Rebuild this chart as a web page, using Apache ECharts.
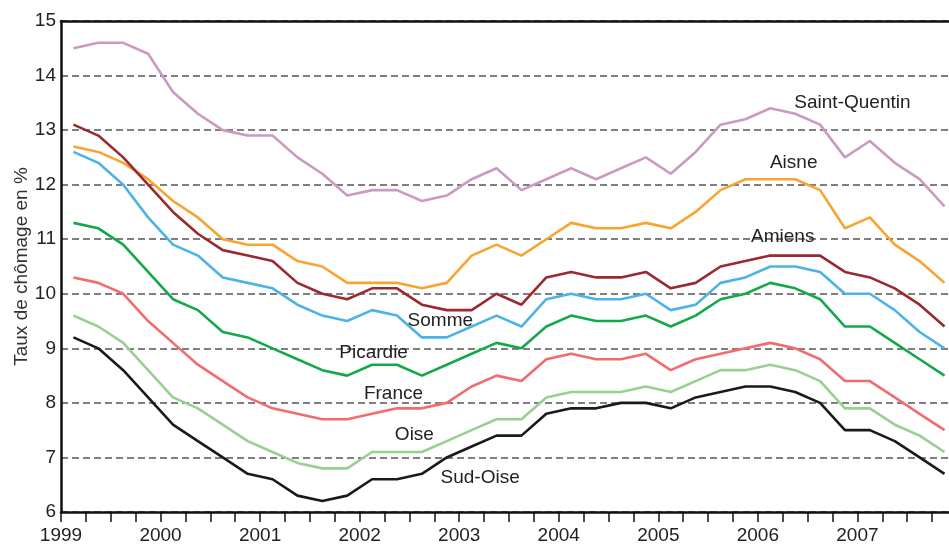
<!DOCTYPE html>
<html>
<head>
<meta charset="utf-8">
<script src="https://cdn.jsdelivr.net/npm/echarts@6/dist/echarts.min.js"></script>
<style>
  html, body { margin: 0; padding: 0; background: #fff; }
  #chomage { width: 949px; height: 544px; }
</style>
</head>
<body>
<div id="chomage"></div>
<script>
// trimestres 1999 T1 .. 2007 T4
let years = [1999, 2000, 2001, 2002, 2003, 2004, 2005, 2006, 2007];
let quarters = [1, 2, 3, 4];

let saintQuentin = [14.5,14.6,14.6,14.4,13.7,13.3,13.0,12.9,12.9,12.5,12.2,11.8,11.9,11.9,11.7,11.8,12.1,12.3,11.9,12.1,12.3,12.1,12.3,12.5,12.2,12.6,13.1,13.2,13.4,13.3,13.1,12.5,12.8,12.4,12.1,11.6];
let aisne = [12.7,12.6,12.4,12.1,11.7,11.4,11.0,10.9,10.9,10.6,10.5,10.2,10.2,10.2,10.1,10.2,10.7,10.9,10.7,11.0,11.3,11.2,11.2,11.3,11.2,11.5,11.9,12.1,12.1,12.1,11.9,11.2,11.4,10.9,10.6,10.2];
let amiens = [13.1,12.9,12.5,12.0,11.5,11.1,10.8,10.7,10.6,10.2,10.0,9.9,10.1,10.1,9.8,9.7,9.7,10.0,9.8,10.3,10.4,10.3,10.3,10.4,10.1,10.2,10.5,10.6,10.7,10.7,10.7,10.4,10.3,10.1,9.8,9.4];
let somme = [12.6,12.4,12.0,11.4,10.9,10.7,10.3,10.2,10.1,9.8,9.6,9.5,9.7,9.6,9.2,9.2,9.4,9.6,9.4,9.9,10.0,9.9,9.9,10.0,9.7,9.8,10.2,10.3,10.5,10.5,10.4,10.0,10.0,9.7,9.3,9.0];
let picardie = [11.3,11.2,10.9,10.4,9.9,9.7,9.3,9.2,9.0,8.8,8.6,8.5,8.7,8.7,8.5,8.7,8.9,9.1,9.0,9.4,9.6,9.5,9.5,9.6,9.4,9.6,9.9,10.0,10.2,10.1,9.9,9.4,9.4,9.1,8.8,8.5];
let france = [10.3,10.2,10.0,9.5,9.1,8.7,8.4,8.1,7.9,7.8,7.7,7.7,7.8,7.9,7.9,8.0,8.3,8.5,8.4,8.8,8.9,8.8,8.8,8.9,8.6,8.8,8.9,9.0,9.1,9.0,8.8,8.4,8.4,8.1,7.8,7.5];
let oise = [9.6,9.4,9.1,8.6,8.1,7.9,7.6,7.3,7.1,6.9,6.8,6.8,7.1,7.1,7.1,7.3,7.5,7.7,7.7,8.1,8.2,8.2,8.2,8.3,8.2,8.4,8.6,8.6,8.7,8.6,8.4,7.9,7.9,7.6,7.4,7.1];
let sudOise = [9.2,9.0,8.6,8.1,7.6,7.3,7.0,6.7,6.6,6.3,6.2,6.3,6.6,6.6,6.7,7.0,7.2,7.4,7.4,7.8,7.9,7.9,8.0,8.0,7.9,8.1,8.2,8.3,8.3,8.2,8.0,7.5,7.5,7.3,7.0,6.7];

let yTicks = [6, 7, 8, 9, 10, 11, 12, 13, 14, 15];

// milieu de chaque trimestre, en annee decimale
let dates = [];
years.forEach(function (y) {
  quarters.forEach(function (q) {
    dates.push(y + (q - 0.5) / 4);
  });
});

let font = '"Liberation Sans Narrow", "Liberation Sans", sans-serif';

function serie(name, values, color, lbl) {
  return {
    name: name,
    type: 'line',
    showSymbol: false,
    silent: true,
    lineStyle: { color: color, width: 2.6 },
    data: values.map(function (v, i) { return [dates[i], v]; }),
    markPoint: {
      symbol: 'rect',
      symbolSize: 0,
      data: [{ coord: lbl, value: name }],
      label: {
        show: true,
        formatter: name,
        color: '#222',
        fontFamily: font,
        fontSize: 19,
        position: 'inside'
      }
    }
  };
}

let chart = echarts.init(document.getElementById('chomage'));
chart.setOption({
  animation: false,
  backgroundColor: '#fff',
  grid: { left: 61, right: 0, top: 21, bottom: 32, containLabel: false, outerBoundsMode: 'none' },
  xAxis: [{
    type: 'value',
    min: 1999,
    max: 2007.92,
    interval: 0.25,
    axisLine: { show: true, lineStyle: { color: '#111', width: 2.5 } },
    axisTick: { show: true, length: 10, lineStyle: { color: '#111', width: 1.5 } },
    axisLabel: {
      margin: 14,
      color: '#222',
      fontFamily: font,
      fontSize: 19,
      showMaxLabel: false,
      formatter: function (v) {
        return Math.abs(v - Math.round(v)) < 1e-6 ? String(Math.round(v)) : '';
      }
    },
    splitLine: { show: false }
  }, {
    type: 'value',
    position: 'top',
    min: 1999,
    max: 2007.92,
    axisLine: { show: true, lineStyle: { color: '#111', width: 2.5 } },
    axisTick: { show: false },
    axisLabel: { show: false },
    splitLine: { show: false }
  }],
  yAxis: {
    type: 'value',
    min: yTicks[0],
    max: yTicks[yTicks.length - 1],
    interval: 1,
    name: 'Taux de chômage en %',
    nameLocation: 'middle',
    nameGap: 30,
    nameMoveOverlap: false,
    nameTextStyle: { color: '#333', fontFamily: font, fontSize: 19 },
    axisLine: { show: true, lineStyle: { color: '#111', width: 2.5 } },
    axisTick: { show: false },
    axisLabel: { margin: 5, color: '#222', fontFamily: font, fontSize: 19 },
    splitLine: { show: true, lineStyle: { color: '#555', width: 1.5, type: [7, 4] } }
  },
  series: [
    serie('Saint-Quentin', saintQuentin, '#c99bc0', [2006.95, 13.5]),
    serie('Aisne', aisne, '#f8a431', [2006.36, 12.41]),
    serie('Amiens', amiens, '#9a2930', [2006.25, 11.04]),
    serie('Somme', somme, '#4db3e6', [2002.81, 9.5]),
    serie('Picardie', picardie, '#13a849', [2002.14, 8.92]),
    serie('France', france, '#f26b6f', [2002.34, 8.17]),
    serie('Oise', oise, '#98d091', [2002.55, 7.42]),
    serie('Sud-Oise', sudOise, '#1a1a1a', [2003.21, 6.62])
  ]
});
</script>
</body>
</html>
